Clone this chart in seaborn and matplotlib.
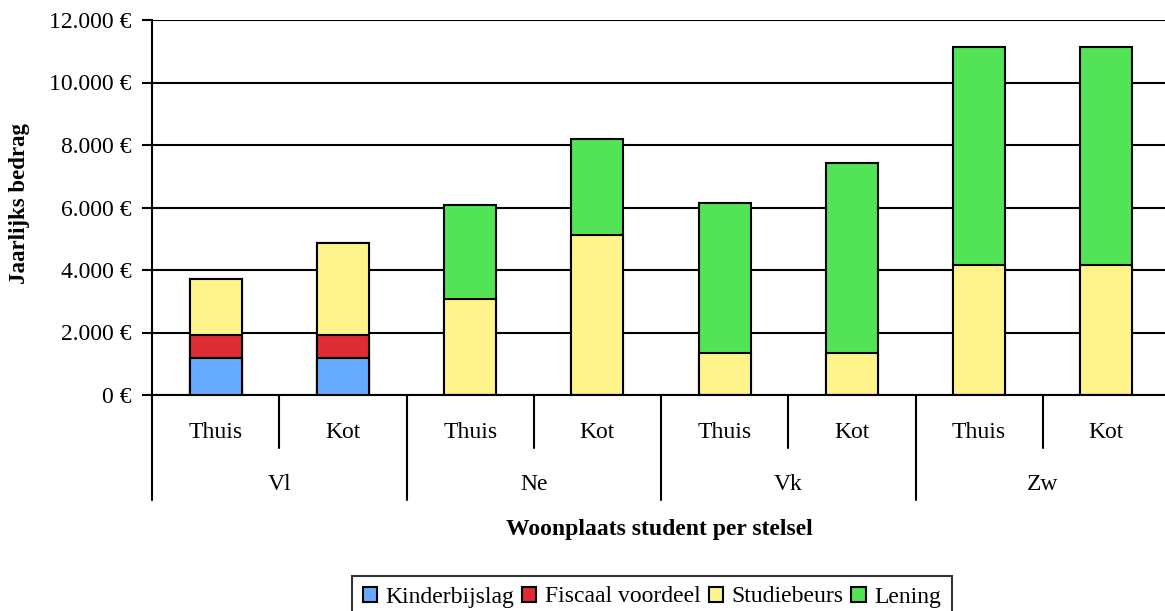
import numpy as np
import pandas as pd
import seaborn as sns
import matplotlib
matplotlib.use("Agg")
from matplotlib import pyplot as plt
from matplotlib.patches import Patch
import matplotlib.transforms as mtransforms

# data (euro per year)
stelsels = ["Vl", "Ne", "Vk", "Zw"]
woonplaats = ["Thuis", "Kot"]
kinderbijslag = [1200, 1200, 0, 0, 0, 0, 0, 0]
fiscaal_voordeel = [720, 720, 0, 0, 0, 0, 0, 0]
studiebeurs = [1790, 2950, 3070, 5120, 1350, 1350, 4160, 4160]
lening = [0, 0, 3010, 3070, 4790, 6060, 6990, 6990]

series = ["Kinderbijslag", "Fiscaal voordeel", "Studiebeurs", "Lening"]
colors = ["#66AAFF", "#DD2C33", "#FFF48C", "#52E357"]
yticks = [0, 2000, 4000, 6000, 8000, 10000, 12000]

sns.set_style("white")
plt.rcParams["font.family"] = ["Liberation Serif", "DejaVu Serif"]
plt.rcParams["font.size"] = 17
plt.rcParams["text.color"] = "black"
plt.rcParams["axes.labelcolor"] = "black"
plt.rcParams["ytick.color"] = "black"

cats = [g + " " + w for g in stelsels for w in woonplaats]
df = pd.DataFrame({"cat": cats,
                   "Kinderbijslag": kinderbijslag,
                   "Fiscaal voordeel": fiscaal_voordeel,
                   "Studiebeurs": studiebeurs,
                   "Lening": lening})
# cumulative stacks, drawn from the top layer down
cum = df[series].cumsum(axis=1)

fig = plt.figure(figsize=(11.65, 6.11), dpi=100)
ax = fig.add_axes([152/1165, (611-395)/611, 1018/1165, 375/611])

for s, c in reversed(list(zip(series, colors))):
    sns.barplot(x=df["cat"], y=cum[s], color=c, width=0.41, saturation=1,
                edgecolor="black", linewidth=1.5, ax=ax, zorder=3)


def euro(v):
    return "{:,}".format(v).replace(",", ".") + " €"


ax.set_ylim(0, 12000)
ax.set_xlim(-0.5, 7.5)
ax.set_yticks(yticks)
ax.set_yticklabels([euro(v) for v in yticks])
for v in yticks:
    ax.axhline(v, color="black", lw=1.5, zorder=1)

for side in ["top", "right"]:
    ax.spines[side].set_visible(False)
for side in ["left", "bottom"]:
    ax.spines[side].set_linewidth(1.5)
    ax.spines[side].set_color("black")
ax.tick_params(axis="y", direction="out", length=7, width=1.5, color="black",
               labelcolor="black", left=True, pad=8)
ax.set_xticks([])
ax.set_xlabel("")
ax.set_ylabel("")
fig.text(20/1165, 1 - 203/611, "Jaarlijks bedrag", fontweight="bold", fontsize=16.5,
         rotation=90, ha="center", va="center")

# hierarchical category axis
trans = mtransforms.blended_transform_factory(ax.transData, ax.transAxes)
for i, c in enumerate(cats):
    ax.text(i, -0.101, c.split()[1], transform=trans, ha="center", va="center")
for j, g in enumerate(stelsels):
    ax.text(2*j + 0.5, -0.24, g, transform=trans, ha="center", va="center")
for k in range(9):
    x = k - 0.5
    low = -0.28 if k % 2 == 0 else -0.141
    ax.plot([x, x], [0, low], color="black", lw=1.5, transform=trans, clip_on=False)

fig.text(659/1165, 1 - 529/611, "Woonplaats student per stelsel",
         fontweight="bold", fontsize=17, ha="center", va="center")

handles = [Patch(facecolor=c, edgecolor="black", linewidth=1.5, label=s)
           for s, c in zip(series, colors)]
leg = fig.legend(handles=handles, loc="center", bbox_to_anchor=(652/1165, 1 - 597/611),
                 ncol=4, frameon=True, fancybox=False, fontsize=17, handlelength=0.6,
                 handleheight=0.6, handletextpad=0.38, columnspacing=0.32,
                 borderpad=0.45, borderaxespad=0)
leg.get_frame().set_edgecolor("black")
leg.get_frame().set_linewidth(1.5)

fig.savefig("out.png", dpi=100)
